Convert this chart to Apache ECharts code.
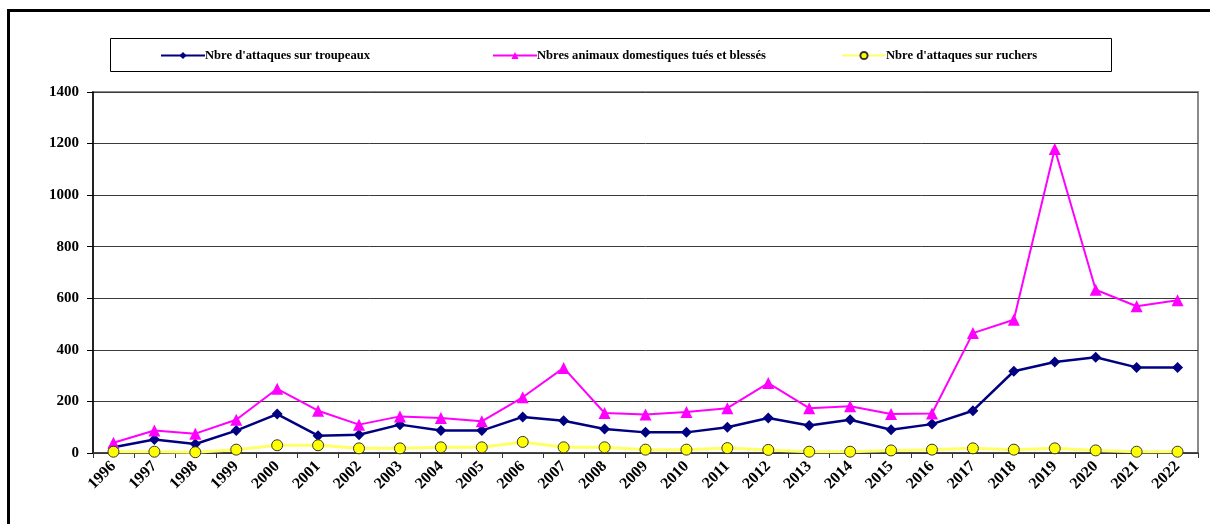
<!DOCTYPE html>
<html>
<head>
<meta charset="utf-8">
<script src="https://cdn.jsdelivr.net/npm/echarts@6/dist/echarts.min.js"></script>
<style>
  html, body { margin: 0; padding: 0; background: #fff; overflow: hidden; }
  #frame { position: absolute; left: 7px; top: 9px; width: 1400px; height: 700px;
           border: 3px solid #000; box-sizing: border-box; }
  #chart { position: absolute; left: 0; top: 0; width: 1210px; height: 524px; }
</style>
</head>
<body>
<div id="frame"></div>
<div id="chart"></div>
<script>
// Années
const years = ['1996','1997','1998','1999','2000','2001','2002','2003','2004','2005','2006',
  '2007','2008','2009','2010','2011','2012','2013','2014','2015','2016','2017','2018',
  '2019','2020','2021','2022'];

// Nbre d'attaques sur troupeaux
const attaquesTroupeaux = [22, 52, 35, 87, 151, 67, 71, 110, 87, 87, 140,
  125, 93, 80, 80, 100, 136, 107, 129, 90, 112, 164, 317,
  353, 371, 332, 332];

// Nbres animaux domestiques tués et blessés
const animauxTuesBlesses = [40, 87, 75, 129, 249, 164, 110, 142, 136, 123, 216,
  330, 155, 149, 159, 174, 271, 174, 181, 151, 153, 465, 517,
  1179, 633, 569, 592];

// Nbre d'attaques sur ruchers
const attaquesRuchers = [5, 5, 3, 13, 30, 30, 18, 18, 22, 22, 43,
  22, 22, 13, 13, 19, 12, 5, 5, 10, 13, 18, 13,
  18, 10, 5, 5];

const yTicks = { min: 0, max: 1400, interval: 200 };

const serif = '"Liberation Serif", "Times New Roman", serif';

const names = [
  "Nbre d'attaques sur troupeaux",
  "Nbres animaux domestiques tués et blessés",
  "Nbre d'attaques sur ruchers"
];

const chart = echarts.init(document.getElementById('chart'), null, { renderer: 'canvas' });

function legendFor(name, left) {
  return {
    data: [name],
    left: left,
    top: 49,
    itemWidth: 44,
    itemHeight: 9,
    itemGap: 0,
    padding: 0,
    textStyle: { fontFamily: serif, fontWeight: 'bold', fontSize: 12.6, color: '#000', padding: [0, 0, 0, -5] },
    selectedMode: false
  };
}

chart.setOption({
  backgroundColor: 'transparent',
  animation: false,
  graphic: [{
    type: 'rect',
    shape: { x: 110.5, y: 38.5, width: 1001, height: 33 },
    style: { fill: '#fff', stroke: '#000', lineWidth: 1 },
    z: -1
  }],
  legend: [
    legendFor(names[0], 160),
    legendFor(names[1], 492),
    legendFor(names[2], 841)
  ],
  grid: {
    left: 93, right: 12, top: 92, bottom: 71,
    show: true, borderColor: '#8a8a8a', borderWidth: 2, backgroundColor: 'transparent'
  },
  xAxis: {
    type: 'category',
    data: years,
    boundaryGap: true,
    axisLine: { lineStyle: { color: '#333', width: 1.5 } },
    axisTick: { show: true, length: 5, lineStyle: { color: '#333' } },
    axisLabel: {
      rotate: 45, margin: 11, interval: 0,
      fontFamily: serif, fontWeight: 'bold', fontSize: 16, color: '#000'
    }
  },
  yAxis: {
    type: 'value',
    min: yTicks.min, max: yTicks.max, interval: yTicks.interval,
    axisLine: { show: true, lineStyle: { color: '#000', width: 1.5 } },
    axisTick: { show: true, length: 6, lineStyle: { color: '#000' } },
    axisLabel: {
      margin: 14, fontFamily: serif, fontWeight: 'bold', fontSize: 15, color: '#000',
      formatter: v => String(v)
    },
    splitLine: { show: true, lineStyle: { color: '#3a3a3a', width: 1 } }
  },
  series: [
    {
      name: names[0], type: 'line', data: attaquesTroupeaux,
      symbol: 'diamond', symbolSize: 11,
      lineStyle: { color: '#000080', width: 2.5 },
      itemStyle: { color: '#000080' }
    },
    {
      name: names[1], type: 'line', data: animauxTuesBlesses,
      symbol: 'triangle', symbolSize: 12,
      lineStyle: { color: '#ff00ff', width: 2 },
      itemStyle: { color: '#ff00ff' }
    },
    {
      name: names[2], type: 'line', data: attaquesRuchers,
      symbol: 'circle', symbolSize: 11,
      lineStyle: { color: '#ffff66', width: 3 },
      itemStyle: { color: '#ffff00', borderColor: '#333', borderWidth: 1 }
    }
  ]
});
</script>
</body>
</html>
